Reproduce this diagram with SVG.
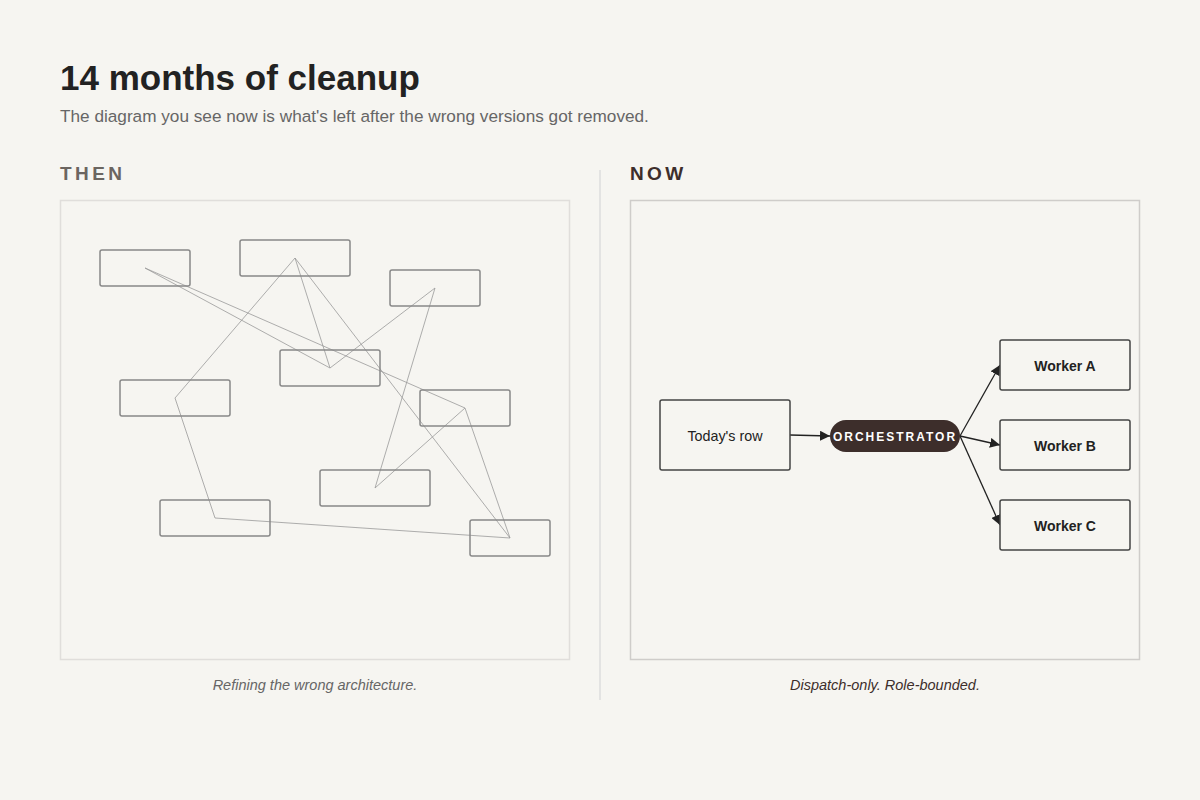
<svg xmlns="http://www.w3.org/2000/svg" width="1200" height="800" viewBox="0 0 1200 800">
<defs>
<style>
.bg{fill:#f6f5f1}
.title{font-family:"Liberation Sans",Arial,sans-serif;font-weight:bold;font-size:35px;fill:#222}
.sub{font-family:"Liberation Sans",Arial,sans-serif;font-size:17.2px;fill:#666}
.sec{font-family:"Liberation Sans",Arial,sans-serif;font-weight:bold;font-size:19px;letter-spacing:3.4px}
.cap{font-family:"Liberation Sans",Arial,sans-serif;font-style:italic;font-size:14.5px;text-anchor:middle}
.oldbox{fill:none;stroke:#888;stroke-width:1.5}
.oldline{stroke:#999;stroke-width:0.8;fill:none}
.box{fill:#f6f5f1;stroke:#444;stroke-width:1.5}
.lbl{font-family:"Liberation Sans",Arial,sans-serif;font-size:14.3px;fill:#222;text-anchor:middle}
.lblb{font-family:"Liberation Sans",Arial,sans-serif;font-size:14px;font-weight:bold;fill:#222;text-anchor:middle}
.conn{stroke:#222;stroke-width:1.3;fill:none;marker-end:url(#arr)}
</style>
<marker id="arr" viewBox="0 0 10 10" refX="10" refY="5" markerWidth="10" markerHeight="10" markerUnits="userSpaceOnUse" orient="auto">
<path d="M0,0 L10,5 L0,10 z" fill="#222"/>
</marker>
</defs>
<rect class="bg" x="0" y="0" width="1200" height="800"/>
<text class="title" x="60" y="90">14 months of cleanup</text>
<text class="sub" x="60" y="122">The diagram you see now is what's left after the wrong versions got removed.</text>
<text class="sec" x="60" y="180" fill="#6b6560">THEN</text>
<text class="sec" x="630" y="180" fill="#3d2e2b">NOW</text>
<line x1="600" y1="170" x2="600" y2="700" stroke="#ddd" stroke-width="1.5"/>

<g id="then-panel">
<rect x="60.5" y="200.5" width="509" height="459" fill="none" stroke="#e0dedb" stroke-width="1.5"/>
<g id="then-lines">
<line class="oldline" x1="145" y1="268" x2="330" y2="368"/>
<line class="oldline" x1="145" y1="268" x2="465" y2="408"/>
<line class="oldline" x1="295" y1="258" x2="330" y2="368"/>
<line class="oldline" x1="295" y1="258" x2="175" y2="398"/>
<line class="oldline" x1="295" y1="258" x2="510" y2="538"/>
<line class="oldline" x1="435" y1="288" x2="330" y2="368"/>
<line class="oldline" x1="435" y1="288" x2="375" y2="488"/>
<line class="oldline" x1="465" y1="408" x2="375" y2="488"/>
<line class="oldline" x1="465" y1="408" x2="510" y2="538"/>
<line class="oldline" x1="175" y1="398" x2="215" y2="518"/>
<line class="oldline" x1="215" y1="518" x2="510" y2="538"/>
</g>
<g id="then-boxes">
<rect class="oldbox" x="100" y="250" width="90" height="36" rx="2"/>
<rect class="oldbox" x="240" y="240" width="110" height="36" rx="2"/>
<rect class="oldbox" x="390" y="270" width="90" height="36" rx="2"/>
<rect class="oldbox" x="280" y="350" width="100" height="36" rx="2"/>
<rect class="oldbox" x="120" y="380" width="110" height="36" rx="2"/>
<rect class="oldbox" x="420" y="390" width="90" height="36" rx="2"/>
<rect class="oldbox" x="320" y="470" width="110" height="36" rx="2"/>
<rect class="oldbox" x="160" y="500" width="110" height="36" rx="2"/>
<rect class="oldbox" x="470" y="520" width="80" height="36" rx="2"/>
</g>
</g>
<text class="cap" x="315" y="690" fill="#666">Refining the wrong architecture.</text>

<rect x="630.5" y="200.5" width="509" height="459" fill="none" stroke="#cfcdca" stroke-width="1.5"/>
<g id="connectors">
<line class="conn" x1="790" y1="435" x2="830" y2="436"/>
<line class="conn" x1="960" y1="436" x2="1000" y2="365"/>
<line class="conn" x1="960" y1="436" x2="1000" y2="445"/>
<line class="conn" x1="960" y1="436" x2="1000" y2="525"/>
</g>
<g id="todays-row">
<rect class="box" x="660" y="400" width="130" height="70" rx="2"/>
<text class="lbl" x="725" y="441">Today's row</text>
</g>
<g id="orchestrator">
<rect x="830" y="420" width="130" height="32" rx="16" fill="#3d2e2b"/>
<text x="895" y="441" font-family="Liberation Sans,Arial,sans-serif" font-weight="bold" font-size="12" letter-spacing="2" fill="#fff" text-anchor="middle">ORCHESTRATOR</text>
</g>
<g id="worker-a">
<rect class="box" x="1000" y="340" width="130" height="50" rx="2"/>
<text class="lblb" x="1065" y="371">Worker A</text>
</g>
<g id="worker-b">
<rect class="box" x="1000" y="420" width="130" height="50" rx="2"/>
<text class="lblb" x="1065" y="451">Worker B</text>
</g>
<g id="worker-c">
<rect class="box" x="1000" y="500" width="130" height="50" rx="2"/>
<text class="lblb" x="1065" y="531">Worker C</text>
</g>
<text class="cap" x="885" y="690" fill="#3d2e2b">Dispatch-only. Role-bounded.</text>
</svg>
